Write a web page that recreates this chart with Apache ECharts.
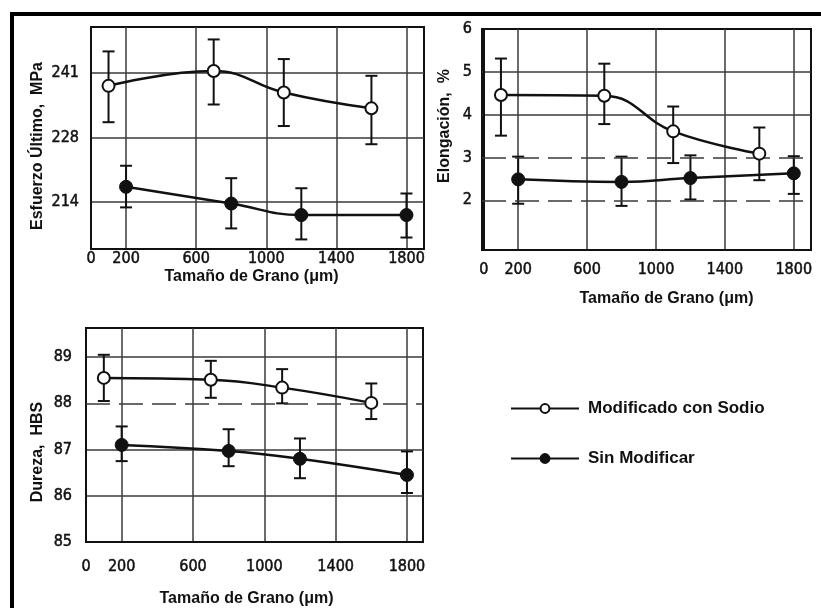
<!DOCTYPE html>
<html>
<head>
<meta charset="utf-8">
<script src="https://cdn.jsdelivr.net/npm/echarts@6/dist/echarts.min.js"></script>
<style>
html,body{margin:0;padding:0;background:#fff;}
#chart{width:821px;height:608px;}
</style>
</head>
<body>
<div id="chart"></div>
<script>
// tamaño de grano (um)
var xMod = [100, 700, 1100, 1600];
var xSin = [200, 800, 1200, 1800];
var xLabels = [0, 200, 600, 1000, 1400, 1800];
var xGrid = [200, 600, 1000, 1400, 1800];

// esfuerzo ultimo, MPa
var esfMod = [238.3, 241.4, 236.9, 233.6];
var esfModLo = [230.7, 234.4, 229.9, 226.1];
var esfModHi = [245.5, 248.0, 243.9, 240.4];
var esfSin = [217.2, 213.7, 211.3, 211.3];
var esfSinLo = [212.9, 208.5, 206.2, 206.6];
var esfSinHi = [221.6, 219.0, 216.9, 215.8];
var esfTicks = [214, 227.5, 241];

// elongacion, %
var eloMod = [4.46, 4.44, 3.61, 3.09];
var eloModLo = [3.51, 3.78, 2.87, 2.47];
var eloModHi = [5.31, 5.19, 4.19, 3.70];
var eloSin = [2.49, 2.43, 2.52, 2.63];
var eloSinLo = [1.92, 1.87, 2.02, 2.15];
var eloSinHi = [3.02, 3.02, 3.05, 3.03];
var eloTicks = [2, 3, 4, 5, 6];
var eloSolid = [4, 5];
var eloDashed = [2, 3];

// dureza, HBS
var durMod = [88.55, 88.51, 88.34, 88.01];
var durModLo = [88.05, 88.12, 88.0, 87.66];
var durModHi = [89.05, 88.92, 88.74, 88.43];
var durSin = [87.1, 86.97, 86.80, 86.45];
var durSinLo = [86.75, 86.64, 86.38, 86.06];
var durSinHi = [87.5, 87.44, 87.24, 86.96];
var durTicks = [85, 86, 87, 88, 89];
var durSolid = [86, 87, 89];
var durDashed = [88];

var NAME_MOD = 'Modificado con Sodio';
var NAME_SIN = 'Sin Modificar';
var ink = '#111';
var gridInk = '#3a3a3a';
var tickFont = {fontFamily: '"DejaVu Sans Condensed", sans-serif', fontSize: 16, fontWeight: 'normal', color: ink,
  textBorderColor: ink, textBorderWidth: 0.5};
var nameFont = {fontFamily: '"Liberation Sans", Arial, sans-serif', fontSize: 16, fontWeight: 'bold', color: ink};

function pts(xs, ys) {
  return xs.map(function (x, i) { return [x, ys[i]]; });
}
function bars(xs, lo, hi) {
  return xs.map(function (x, i) { return [x, lo[i], hi[i]]; });
}

function errorBarItem(params, api) {
  var x = api.value(0);
  var lo = api.coord([x, api.value(1)]);
  var hi = api.coord([x, api.value(2)]);
  var w = 6;
  var st = {stroke: ink, lineWidth: 2};
  return {
    type: 'group',
    children: [
      {type: 'line', shape: {x1: lo[0], y1: lo[1], x2: hi[0], y2: hi[1]}, style: st},
      {type: 'line', shape: {x1: lo[0] - w, y1: lo[1], x2: lo[0] + w, y2: lo[1]}, style: st},
      {type: 'line', shape: {x1: hi[0] - w, y1: hi[1], x2: hi[0] + w, y2: hi[1]}, style: st}
    ]
  };
}

function xAxisFor(idx, min, max, margin, gap, pad) {
  return {
    type: 'value', gridIndex: idx, min: min, max: max,
    name: 'Tamaño de Grano (μm)', nameLocation: 'middle', nameGap: gap,
    nameTextStyle: Object.assign({padding: pad}, nameFont),
    axisLine: {show: true, lineStyle: {color: ink, width: 2}},
    axisTick: {show: false, customValues: xGrid},
    axisLabel: Object.assign({customValues: xLabels, margin: margin,
      formatter: function (v) { return String(v); }}, tickFont),
    splitLine: {show: true, lineStyle: {color: gridInk, width: 1.5}}
  };
}

function yAxisFor(idx, min, max, name, gridVals, labelVals, fmt, margin, gap, pad) {
  return {
    type: 'value', gridIndex: idx, min: min, max: max,
    name: name, nameLocation: 'middle', nameGap: gap,
    nameTextStyle: Object.assign({padding: pad}, nameFont),
    axisLine: {show: true, lineStyle: {color: ink, width: 2}},
    axisTick: {show: false, customValues: gridVals},
    axisLabel: Object.assign({customValues: labelVals, margin: margin, formatter: fmt}, tickFont),
    splitLine: {show: true, lineStyle: {color: gridInk, width: 1.5}}
  };
}

function dashLines(vals) {
  return {
    silent: true, symbol: 'none', label: {show: false},
    lineStyle: {color: gridInk, width: 1.5, type: [24, 9]},
    data: vals.map(function (v) { return {yAxis: v}; })
  };
}

function panelSeries(idx, mod, modLo, modHi, sin, sinLo, sinHi, dashed) {
  var modLine = {
    name: NAME_MOD, type: 'line', xAxisIndex: idx, yAxisIndex: idx,
    data: pts(xMod, mod), smooth: 0.45, z: 5,
    symbol: 'circle', symbolSize: 12,
    lineStyle: {color: ink, width: 2.5},
    itemStyle: {color: '#fff', borderColor: ink, borderWidth: 2}
  };
  if (dashed) modLine.markLine = dashLines(dashed);
  return [
    {type: 'custom', xAxisIndex: idx, yAxisIndex: idx, z: 3,
     renderItem: errorBarItem, encode: {x: 0, y: [1, 2]}, data: bars(xMod, modLo, modHi)},
    {type: 'custom', xAxisIndex: idx, yAxisIndex: idx, z: 3,
     renderItem: errorBarItem, encode: {x: 0, y: [1, 2]}, data: bars(xSin, sinLo, sinHi)},
    modLine,
    {
      name: NAME_SIN, type: 'line', xAxisIndex: idx, yAxisIndex: idx,
      data: pts(xSin, sin), smooth: 0.45, z: 5,
      symbol: 'circle', symbolSize: 13,
      lineStyle: {color: ink, width: 2.5},
      itemStyle: {color: ink, borderColor: ink, borderWidth: 1}
    }
  ];
}

var chart = echarts.init(document.getElementById('chart'));
var gridBox = {show: true, borderColor: ink, borderWidth: 2, backgroundColor: 'transparent'};

chart.setOption({
  animation: false,
  backgroundColor: '#fff',
  graphic: [
    {type: 'rect', shape: {x: 10, y: 12, width: 811, height: 4}, style: {fill: '#000'}},
    {type: 'rect', shape: {x: 10, y: 12, width: 4, height: 596}, style: {fill: '#000'}}
  ],
  legend: {
    orient: 'vertical', left: 505, top: 395, itemGap: 33,
    itemWidth: 68, itemHeight: 11,
    data: [NAME_MOD, NAME_SIN],
    lineStyle: {width: 2},
    textStyle: {fontFamily: '"Liberation Sans", Arial, sans-serif', fontSize: 17, fontWeight: 'bold', color: ink, padding: [0, 0, 0, 4]}
  },
  grid: [
    Object.assign({left: 91, top: 27, right: 397, bottom: 359}, gridBox),
    Object.assign({left: 482, top: 29, right: 10, bottom: 358}, gridBox),
    Object.assign({left: 86, top: 328, right: 398, bottom: 60}, gridBox)
  ],
  xAxis: [
    xAxisFor(0, 0, 1900, 2, 18, [0, 12, 0, 0]),
    xAxisFor(1, -10, 1900, 12, 41, [0, 0, 0, 40]),
    xAxisFor(2, 0, 1890, 17, 49, [0, 16, 0, 0])
  ],
  yAxis: [
    yAxisFor(0, 204.2, 250.6, 'Esfuerzo Último,  MPa', esfTicks, esfTicks,
      function (v) { return String(Math.round(v)); }, 12, 45, [0, 16, 0, 0]),
    yAxisFor(1, 0.84, 6, 'Elongación,  %', eloSolid, eloTicks, null, 10, 29, [0, 0, 0, 27]),
    yAxisFor(2, 85, 89.63, 'Dureza,  HBS', durSolid, durTicks, null, 14, 40, [0, 34, 0, 0])
  ],
  series: []
    .concat(panelSeries(0, esfMod, esfModLo, esfModHi, esfSin, esfSinLo, esfSinHi, null))
    .concat(panelSeries(1, eloMod, eloModLo, eloModHi, eloSin, eloSinLo, eloSinHi, eloDashed))
    .concat(panelSeries(2, durMod, durModLo, durModHi, durSin, durSinLo, durSinHi, durDashed))
});
</script>
</body>
</html>
